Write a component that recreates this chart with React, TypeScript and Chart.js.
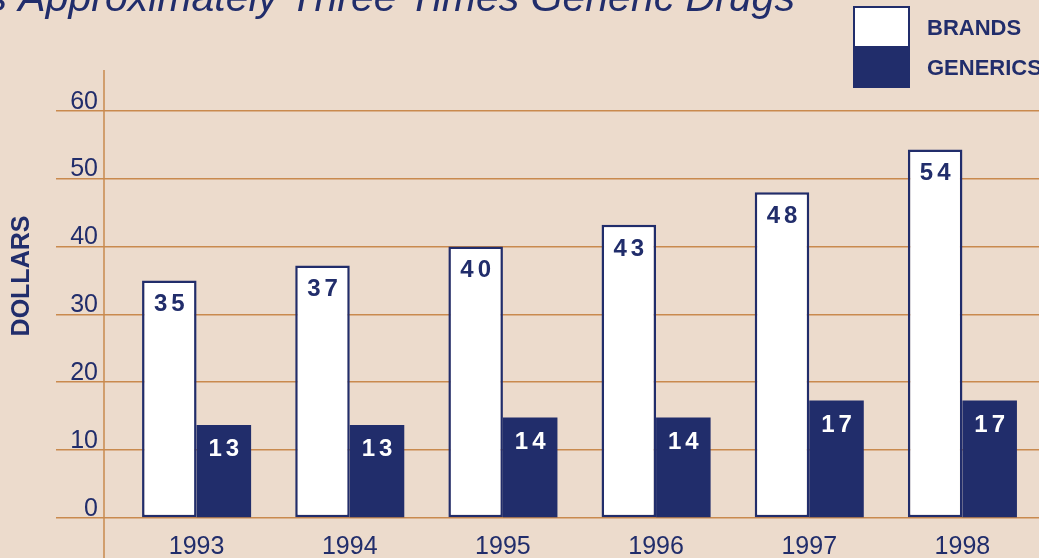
import { useEffect, useRef } from 'react';
import { Chart, registerables } from 'chart.js';

Chart.register(...registerables);

const years = ['1993', '1994', '1995', '1996', '1997', '1998'];
const brandValues = [35, 37.2, 40, 43.2, 48, 54.3];
const genericValues = [13.7, 13.7, 14.8, 14.8, 17.3, 17.3];
const brandLabels = ['35', '37', '40', '43', '48', '54'];
const genericLabels = ['13', '13', '14', '14', '17', '17'];
const yTicks = [0, 10, 20, 30, 40, 50, 60];
const seriesNames = ['BRANDS', 'GENERICS'];
const titleText = 'Is Approximately Three Times Generic Drugs';
const axisTitle = 'DOLLARS';

const BG = '#ecdbcc';
const NAVY = '#212d6b';
const GRID = '#c98a4e';
const FONT = "'Liberation Sans', Arial, Helvetica, sans-serif";

const W = 1039;
const H = 558;

const drawSpaced = (ctx: CanvasRenderingContext2D, text: string, cx: number, y: number, spacing: number) => {
  const widths = text.split('').map((c) => ctx.measureText(c).width);
  const total = widths.reduce((a, b) => a + b, 0) + spacing * (text.length - 1);
  let x = cx - total / 2;
  ctx.textAlign = 'left';
  text.split('').forEach((c, i) => {
    ctx.fillText(c, x, y);
    x += widths[i] + spacing;
  });
};

const decorPlugin = {
  id: 'decor',
  beforeDraw(chart: any) {
    const ctx = chart.ctx;
    ctx.save();
    ctx.fillStyle = BG;
    ctx.fillRect(0, 0, chart.width, chart.height);
    ctx.restore();
  },
  beforeDatasetsDraw(chart: any) {
    const ctx = chart.ctx;
    const { chartArea } = chart;
    ctx.save();
    ctx.strokeStyle = GRID;
    ctx.lineWidth = 1.5;
    ctx.beginPath();
    const x = chartArea.left - 16;
    ctx.moveTo(x, chartArea.top);
    ctx.lineTo(x, chart.height);
    ctx.stroke();
    ctx.restore();
  },
  afterDatasetsDraw(chart: any) {
    const ctx = chart.ctx;
    ctx.save();
    ctx.font = `bold 24px ${FONT}`;
    ctx.textBaseline = 'alphabetic';
    const labelSets = [brandLabels, genericLabels];
    const colors = [NAVY, '#ffffff'];
    chart.data.datasets.forEach((_ds: any, di: number) => {
      const meta = chart.getDatasetMeta(di);
      meta.data.forEach((bar: any, i: number) => {
        ctx.fillStyle = colors[di];
        drawSpaced(ctx, labelSets[di][i], bar.x, bar.y + 31, 4);
      });
    });
    ctx.restore();
  },
  afterDraw(chart: any) {
    const ctx = chart.ctx;
    ctx.save();
    // title (partly off canvas)
    ctx.fillStyle = NAVY;
    ctx.font = `italic 41px ${FONT}`;
    ctx.textAlign = 'left';
    ctx.textBaseline = 'alphabetic';
    ctx.fillText(titleText, -25, 11);

    // y axis title
    ctx.save();
    ctx.translate(22, 276);
    ctx.rotate(-Math.PI / 2);
    ctx.font = `bold 25px ${FONT}`;
    ctx.textAlign = 'center';
    ctx.textBaseline = 'middle';
    ctx.fillText(axisTitle, 0, 0);
    ctx.restore();

    // legend
    const bx = 854;
    ctx.fillStyle = '#ffffff';
    ctx.fillRect(bx, 7, 55, 39);
    ctx.fillStyle = NAVY;
    ctx.fillRect(bx, 46, 55, 41);
    ctx.strokeStyle = NAVY;
    ctx.lineWidth = 2;
    ctx.strokeRect(bx, 7, 55, 80);
    ctx.font = `bold 22px ${FONT}`;
    ctx.textAlign = 'left';
    ctx.textBaseline = 'middle';
    ctx.fillText(chart.data.datasets[0].label, 927, 29);
    ctx.fillText(chart.data.datasets[1].label, 927, 69);
    ctx.restore();
  },
};

export default function App() {
  const ref = useRef<HTMLCanvasElement | null>(null);

  useEffect(() => {
    document.body.style.margin = '0';
    document.body.style.background = BG;
    const canvas = ref.current;
    if (!canvas) return;
    const chart = new Chart(canvas, {
      type: 'bar',
      data: {
        labels: years,
        datasets: [
          {
            label: seriesNames[0],
            data: brandValues,
            backgroundColor: '#ffffff',
            borderColor: NAVY,
            borderWidth: 2.5,
            borderSkipped: false,
            categoryPercentage: 0.712,
            barPercentage: 1,
          },
          {
            label: seriesNames[1],
            data: genericValues,
            backgroundColor: NAVY,
            borderWidth: 0,
            categoryPercentage: 0.712,
            barPercentage: 1,
          },
        ],
      },
      options: {
        responsive: false,
        animation: false,
        devicePixelRatio: 1,
        layout: { padding: { top: 70, left: 0, right: 0, bottom: 0 } },
        plugins: {
          legend: { display: false },
          title: { display: false },
          tooltip: { enabled: false },
        },
        scales: {
          x: {
            grid: { display: false, drawTicks: false },
            border: { display: false },
            ticks: {
              color: NAVY,
              font: { family: FONT, size: 25 },
              padding: 14,
              maxRotation: 0,
            },
            afterFit: (scale: any) => {
              scale.height = 40;
            },
          },
          y: {
            min: 0,
            max: 66,
            border: { display: false },
            grid: {
              color: GRID,
              lineWidth: 1.5,
              drawTicks: true,
              tickLength: 64,
              tickColor: GRID,
            },
            afterBuildTicks: (scale: any) => {
              scale.ticks = yTicks.map((v) => ({ value: v }));
            },
            ticks: {
              color: NAVY,
              font: { family: FONT, size: 25 },
              padding: -42,
              labelOffset: -9,
            },
            afterFit: (scale: any) => {
              scale.width = 120;
            },
          },
        },
      },
      plugins: [decorPlugin],
    });
    return () => chart.destroy();
  }, []);

  return (
    <div style={{ position: 'absolute', left: 0, top: 0, width: W, height: H }}>
      <canvas ref={ref} width={W} height={H} style={{ display: 'block' }} />
    </div>
  );
}
